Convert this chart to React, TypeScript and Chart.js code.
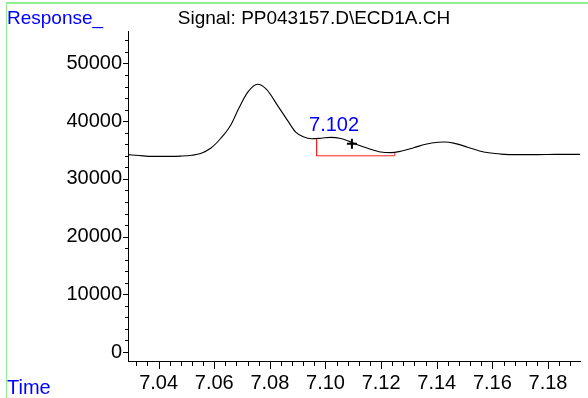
import React, { useEffect, useRef } from "react";
import { Chart, registerables } from "chart.js";

Chart.register(...registerables);

// ---- data ----
const times = [
  7.029, 7.033, 7.038, 7.044, 7.048, 7.052, 7.0551, 7.0587, 7.0623, 7.0659,
  7.0688, 7.072, 7.0756, 7.0788, 7.0828, 7.0864, 7.0893, 7.092, 7.095, 7.0985,
  7.1019, 7.1055, 7.1085, 7.111, 7.1152, 7.1199, 7.1235, 7.1271, 7.1317, 7.136,
  7.1405, 7.143, 7.1461, 7.1511, 7.1569, 7.163, 7.17, 7.176, 7.183, 7.1918,
];
const response = [
  34200, 34050, 33900, 33900, 33950, 34100, 34400, 35300, 37000, 39300,
  42200, 45000, 46400, 45500, 42700, 40100, 38100, 37300, 36950, 37050,
  37200, 37000, 36500, 36000, 35300, 34650, 34550, 34800, 35400, 36000,
  36350, 36400, 36200, 35500, 34650, 34300, 34200, 34200, 34250, 34250,
];
const baselineTimes = [7.0968, 7.0968, 7.1249, 7.1249];
const baselineResp = [36900, 34000, 34000, 34550];
const markerTimes = [7.1095];
const markerResp = [36100];
const peakLabelTime = 7.102;
const peakLabelResp = 37200;
const peakLabelText = "7.102";

const yMajorTicks = [0, 10000, 20000, 30000, 40000, 50000];
const xMajorTicks = [7.04, 7.06, 7.08, 7.1, 7.12, 7.14, 7.16, 7.18];
const yMinorStep = 2000;
const xMinorStep = 0.004;

const titleText = "Signal: PP043157.D\\ECD1A.CH";
const yTitleText = "Response_";
const xTitleText = "Time";

const FONT = "'Liberation Sans', Arial, sans-serif";

const decorPlugin = {
  id: "decor",
  beforeDraw(chart: any) {
    const ctx = chart.ctx;
    ctx.save();
    ctx.fillStyle = "#ffffff";
    ctx.fillRect(0, 0, chart.width, chart.height);
    ctx.fillStyle = "#90ee90";
    ctx.fillRect(6, 2, chart.width - 6, 2);
    ctx.fillRect(6, 2, 1, chart.height - 2);
    ctx.restore();
  },
  afterDraw(chart: any) {
    const ctx = chart.ctx;
    const xs = chart.scales.x;
    const ys = chart.scales.y;
    const area = chart.chartArea;
    ctx.save();
    // tick marks
    ctx.strokeStyle = "#000";
    ctx.lineWidth = 1;
    ctx.beginPath();
    for (let i = -5; i <= 45; i++) {
      const v = xMajorTicks[0] + i * xMinorStep;
      if (v < xs.min - 1e-9 || v > xs.max + 1e-9) continue;
      const px = Math.round(xs.getPixelForValue(v)) + 0.5;
      const major = ((i % 5) + 5) % 5 === 0;
      ctx.moveTo(px, area.bottom);
      ctx.lineTo(px, area.bottom + (major ? 8 : 5));
    }
    for (let k = -2; k <= 40; k++) {
      const v = yMajorTicks[0] + k * yMinorStep;
      if (v < ys.min || v > ys.max) continue;
      const py = Math.round(ys.getPixelForValue(v)) + 0.5;
      const major = ((k % 5) + 5) % 5 === 0;
      ctx.moveTo(area.left, py);
      ctx.lineTo(area.left - (major ? 5 : 3), py);
    }
    ctx.stroke();

    // texts
    ctx.textBaseline = "alphabetic";
    ctx.textAlign = "left";
    ctx.fillStyle = "#0000ff";
    ctx.font = `19px ${FONT}`;
    ctx.fillText(yTitleText, 7, 24);
    ctx.font = `20px ${FONT}`;
    ctx.fillText(xTitleText, 7, 394);

    ctx.fillStyle = "#000";
    ctx.font = `19px ${FONT}`;
    ctx.textAlign = "center";
    ctx.fillText(titleText, 314, 24);

    ctx.fillStyle = "#0000ff";
    ctx.font = `20px ${FONT}`;
    const lx = xs.getPixelForValue(peakLabelTime);
    const ly = ys.getPixelForValue(peakLabelResp);
    ctx.fillText(peakLabelText, lx + 3, ly - 6);
    ctx.restore();
  },
};

export default function App() {
  const ref = useRef<HTMLCanvasElement>(null);
  useEffect(() => {
    if (!ref.current) return;
    const chart = new Chart(ref.current, {
      type: "line",
      data: {
        datasets: [
          {
            data: times.map((t, i) => ({ x: t, y: response[i] })),
            borderColor: "#000",
            borderWidth: 1.1,
            pointRadius: 0,
            cubicInterpolationMode: "monotone",
          },
          {
            data: baselineTimes.map((t, i) => ({ x: t, y: baselineResp[i] })),
            borderColor: "#ff2020",
            borderWidth: 1,
            pointRadius: 0,
            tension: 0,
          },
          {
            data: markerTimes.map((t, i) => ({ x: t, y: markerResp[i] })),
            showLine: false,
            pointStyle: "cross",
            pointRadius: 5,
            pointBorderWidth: 2,
            pointBorderColor: "#000",
            borderColor: "#000",
          },
        ] as any,
      },
      options: {
        animation: false,
        responsive: false,
        devicePixelRatio: 1,
        events: [],
        layout: { padding: { top: 31, right: 8, left: 0, bottom: 0 } },
        plugins: {
          legend: { display: false },
          tooltip: { enabled: false },
          title: { display: false },
        },
        scales: {
          x: {
            type: "linear",
            min: 7.029,
            max: 7.1915,
            afterBuildTicks: (s: any) => {
              s.ticks = xMajorTicks.map((v) => ({ value: v }));
            },
            afterFit: (s: any) => {
              s.height = 37;
            },
            grid: { display: false, drawTicks: false },
            border: { display: true, color: "#000", width: 1 },
            ticks: {
              padding: 10,
              color: "#000",
              font: { family: FONT, size: 20 },
              maxRotation: 0,
              autoSkip: false,
              callback: (v: any) => Number(v).toFixed(2),
            },
          },
          y: {
            type: "linear",
            min: -1560,
            max: 55630,
            afterBuildTicks: (s: any) => {
              s.ticks = yMajorTicks.map((v) => ({ value: v }));
            },
            afterFit: (s: any) => {
              s.width = 128;
            },
            grid: { display: false, drawTicks: false },
            border: { display: true, color: "#000", width: 1 },
            ticks: {
              padding: 6,
              color: "#000",
              font: { family: FONT, size: 20 },
              autoSkip: false,
              callback: (v: any) => String(v),
            },
          },
        },
      } as any,
      plugins: [decorPlugin],
    });
    return () => chart.destroy();
  }, []);
  return (
    <div style={{ position: "fixed", left: 0, top: 0, width: 588, height: 398 }}>
      <canvas ref={ref} width={588} height={398} style={{ display: "block" }} />
    </div>
  );
}
